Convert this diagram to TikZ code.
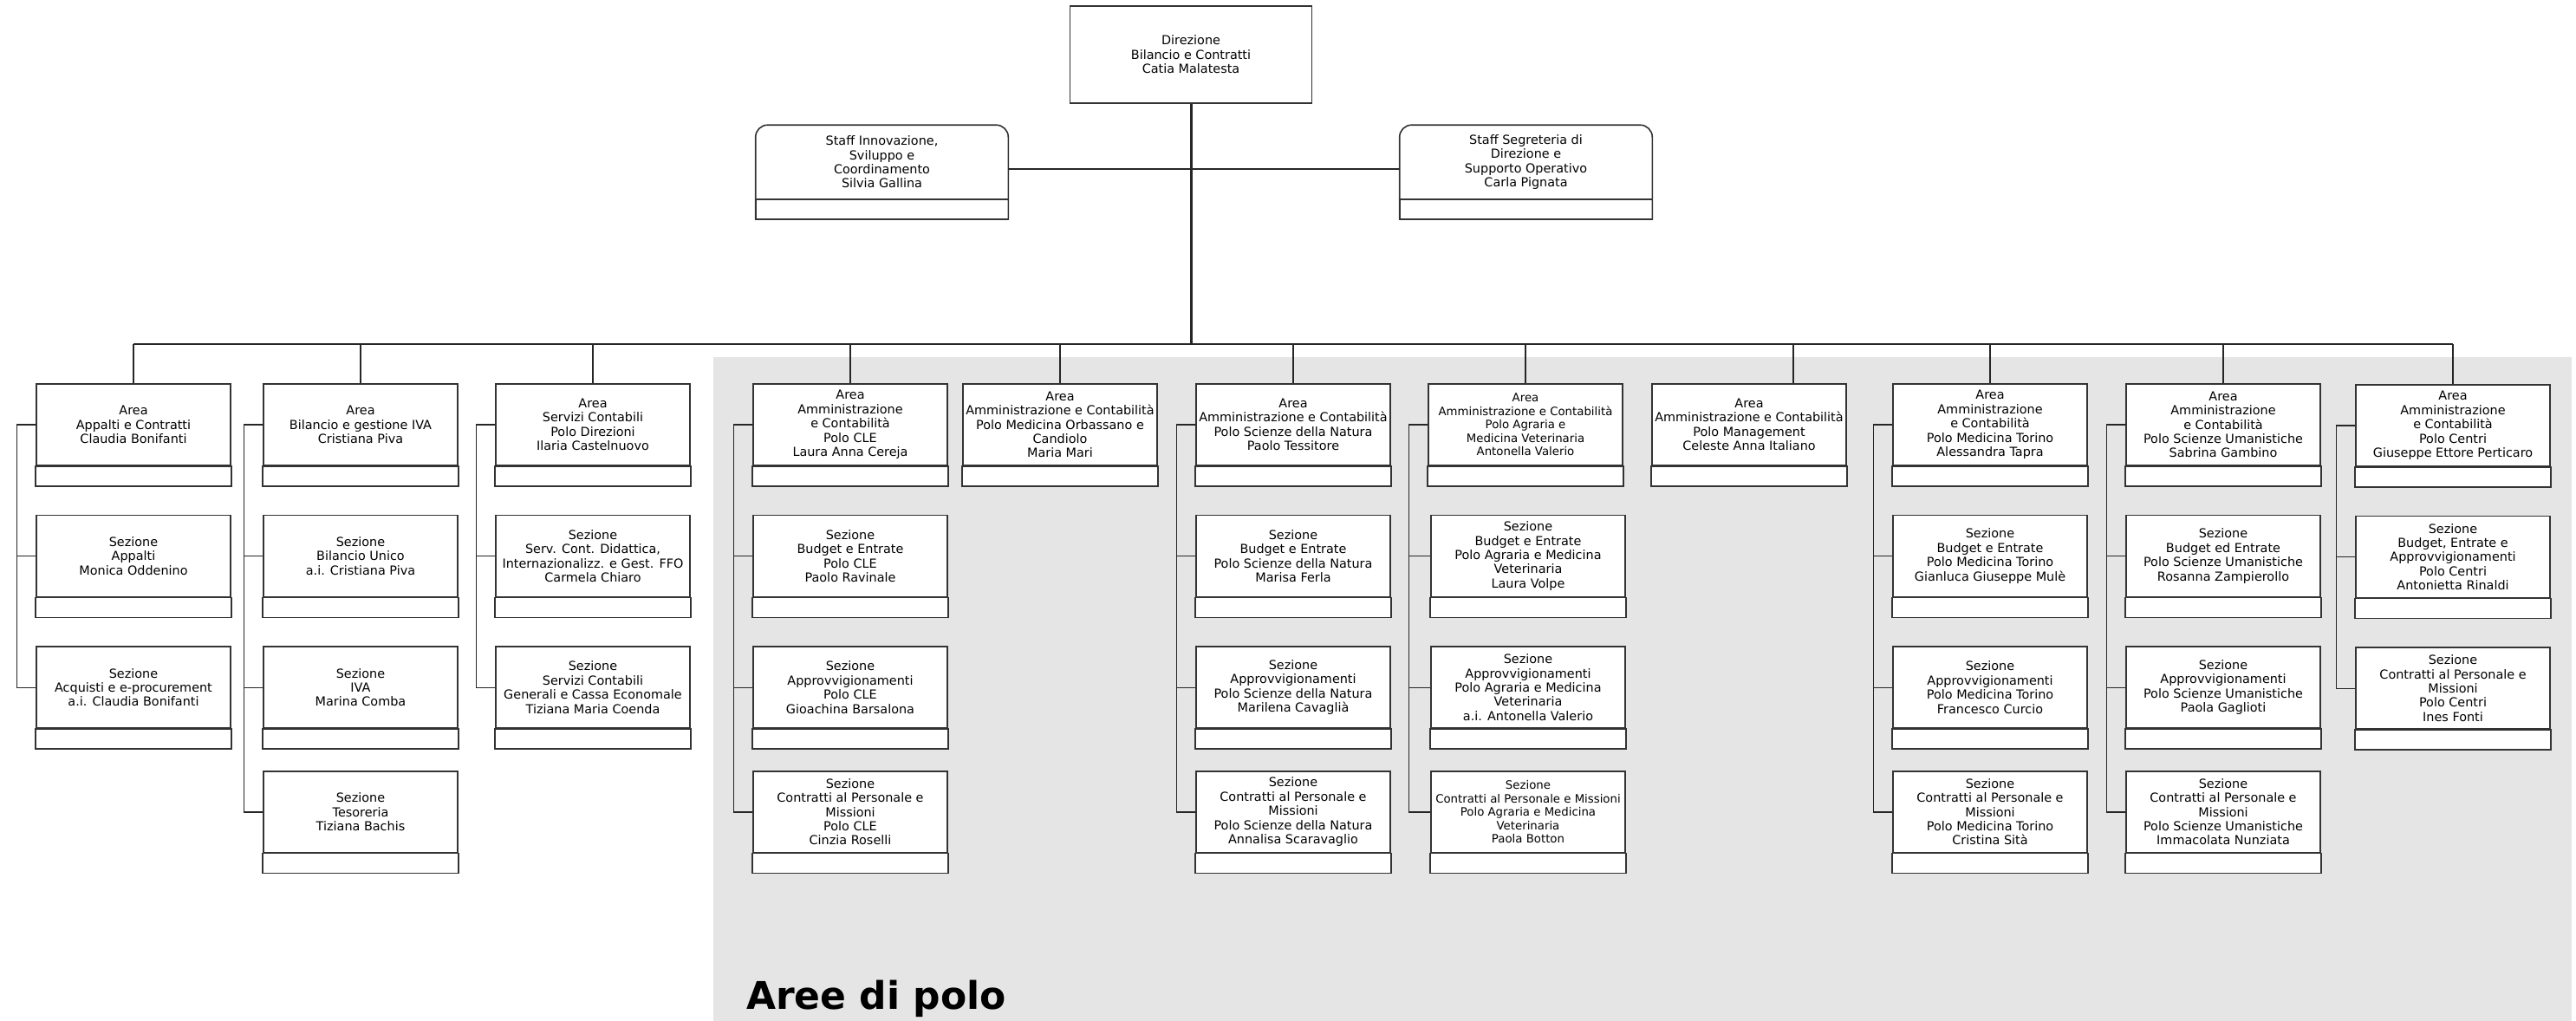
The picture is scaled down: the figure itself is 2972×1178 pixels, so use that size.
\documentclass[tikz,border=0pt]{standalone}
\usepackage{fontspec}
\setmainfont{DejaVu Sans}
\usetikzlibrary{positioning}
\definecolor{polo}{RGB}{229,229,229}

\begin{document}
\begin{tikzpicture}[
    x=1pt, y=1pt,
    node distance=56pt,
    font=\fontsize{14.4}{16.4}\selectfont,
    unit/.style={draw=black!80, line width=1.6pt, fill=white, align=center, inner xsep=2pt,
        minimum width=224pt, minimum height=94pt,
        append after command={\pgfextra{\draw[line width=1.6pt, draw=black!80, fill=white]
            (\tikzlastnode.south west) rectangle ([yshift=-23pt]\tikzlastnode.south east);}}},
    staff/.style={unit, draw=none, fill=none, minimum width=290pt, minimum height=84pt,
        append after command={\pgfextra{\draw[line width=1.6pt, draw=black!80, rounded corners=14pt]
            ([yshift=-23pt]\tikzlastnode.south west) -- (\tikzlastnode.north west)
            -- (\tikzlastnode.north east) -- ([yshift=-23pt]\tikzlastnode.south east);}}},
    head/.style={draw=black!80, line width=1.6pt, fill=white, align=center,
        minimum width=279pt, minimum height=112pt},
    small/.style={font=\fontsize{13.3}{15.6}\selectfont},
    link/.style={line width=1.4pt, draw=black!85}
]
\useasboundingbox (0,0) rectangle (2972,-1178);
\fill[polo] (823,-412) rectangle (2967,-1178);

\node[anchor=base west, inner sep=0pt, font=\bfseries\fontsize{44}{50}\selectfont] (titolo) at (861,-1164) {Aree di polo};

% vertice
\node[head] (direzione) at (1374,-63) {Direzione\\Bilancio e Contratti\\Catia Malatesta};
\node[staff] (innovazione) at (1017.5,-187) {Staff Innovazione,\\Sviluppo e\\Coordinamento\\Silvia Gallina};
\node[staff] (segreteria) at (1760.5,-187) {Staff Segreteria di\\Direzione e\\Supporto Operativo\\Carla Pignata};
\coordinate (bus) at (1374,-397);

% aree centrali
\node[unit] (contratti) at (154,-490) {Area\\Appalti e Contratti\\Claudia Bonifanti};
\node[unit, below=of contratti] (contratti1) {Sezione\\Appalti\\Monica Oddenino};
\node[unit, below=of contratti1] (contratti2) {Sezione\\Acquisti e e-procurement\\a.i. Claudia Bonifanti};

\node[unit] (bilancio) at (416,-490) {Area\\Bilancio e gestione IVA\\Cristiana Piva};
\node[unit, below=of bilancio] (bilancio1) {Sezione\\Bilancio Unico\\a.i. Cristiana Piva};
\node[unit, below=of bilancio1] (bilancio2) {Sezione\\IVA\\Marina Comba};
\node[unit, below=48pt of bilancio2] (bilancio3) {Sezione\\Tesoreria\\Tiziana Bachis};

\node[unit] (servizi) at (684,-490) {Area\\Servizi Contabili\\Polo Direzioni\\Ilaria Castelnuovo};
\node[unit, below=of servizi] (servizi1) {Sezione\\Serv. Cont. Didattica,\\Internazionalizz. e Gest. FFO\\Carmela Chiaro};
\node[unit, below=of servizi1] (servizi2) {Sezione\\Servizi Contabili\\Generali e Cassa Economale\\Tiziana Maria Coenda};

% aree di polo
\node[unit] (cle) at (981,-490) {Area\\Amministrazione\\e Contabilità\\Polo CLE\\Laura Anna Cereja};
\node[unit, below=of cle] (cle1) {Sezione\\Budget e Entrate\\Polo CLE\\Paolo Ravinale};
\node[unit, below=of cle1] (cle2) {Sezione\\Approvvigionamenti\\Polo CLE\\Gioachina Barsalona};
\node[unit, below=48pt of cle2] (cle3) {Sezione\\Contratti al Personale e\\Missioni\\Polo CLE\\Cinzia Roselli};

\node[unit] (orbassano) at (1223,-490) {Area\\Amministrazione e Contabilità\\Polo Medicina Orbassano e\\Candiolo\\Maria Mari};

\node[unit] (natura) at (1492,-490) {Area\\Amministrazione e Contabilità\\Polo Scienze della Natura\\Paolo Tessitore};
\node[unit, below=of natura] (natura1) {Sezione\\Budget e Entrate\\Polo Scienze della Natura\\Marisa Ferla};
\node[unit, below=of natura1] (natura2) {Sezione\\Approvvigionamenti\\Polo Scienze della Natura\\Marilena Cavaglià};
\node[unit, below=48pt of natura2] (natura3) {Sezione\\Contratti al Personale e\\Missioni\\Polo Scienze della Natura\\Annalisa Scaravaglio};

\node[unit, small] (agraria) at (1760,-490) {Area\\Amministrazione e Contabilità\\Polo Agraria e\\Medicina Veterinaria\\Antonella Valerio};
\node[unit, below=of agraria, xshift=3pt] (agraria1) {Sezione\\Budget e Entrate\\Polo Agraria e Medicina\\Veterinaria\\Laura Volpe};
\node[unit, below=of agraria1] (agraria2) {Sezione\\Approvvigionamenti\\Polo Agraria e Medicina\\Veterinaria\\a.i. Antonella Valerio};
\node[unit, small, below=48pt of agraria2] (agraria3) {Sezione\\Contratti al Personale e Missioni\\Polo Agraria e Medicina\\Veterinaria\\Paola Botton};

\node[unit] (management) at (2018,-490) {Area\\Amministrazione e Contabilità\\Polo Management\\Celeste Anna Italiano};

\node[unit] (torino) at (2296,-490) {Area\\Amministrazione\\e Contabilità\\Polo Medicina Torino\\Alessandra Tapra};
\node[unit, below=of torino] (torino1) {Sezione\\Budget e Entrate\\Polo Medicina Torino\\Gianluca Giuseppe Mulè};
\node[unit, below=of torino1] (torino2) {Sezione\\Approvvigionamenti\\Polo Medicina Torino\\Francesco Curcio};
\node[unit, below=48pt of torino2] (torino3) {Sezione\\Contratti al Personale e\\Missioni\\Polo Medicina Torino\\Cristina Sità};

\node[unit] (umanistiche) at (2565,-490) {Area\\Amministrazione\\e Contabilità\\Polo Scienze Umanistiche\\Sabrina Gambino};
\node[unit, below=of umanistiche] (umanistiche1) {Sezione\\Budget ed Entrate\\Polo Scienze Umanistiche\\Rosanna Zampierollo};
\node[unit, below=of umanistiche1] (umanistiche2) {Sezione\\Approvvigionamenti\\Polo Scienze Umanistiche\\Paola Gaglioti};
\node[unit, below=48pt of umanistiche2] (umanistiche3) {Sezione\\Contratti al Personale e\\Missioni\\Polo Scienze Umanistiche\\Immacolata Nunziata};

\node[unit] (centri) at (2830,-491) {Area\\Amministrazione\\e Contabilità\\Polo Centri\\Giuseppe Ettore Perticaro};
\node[unit, below=of centri] (centri1) {Sezione\\Budget, Entrate e\\Approvvigionamenti\\Polo Centri\\Antonietta Rinaldi};
\node[unit, below=of centri1] (centri2) {Sezione\\Contratti al Personale e\\Missioni\\Polo Centri\\Ines Fonti};

% collegamenti
\draw[link, line width=3pt] (direzione.south) -- (bus);
\draw[link] ([yshift=-8pt]innovazione.east) -- ([yshift=-8pt]segreteria.west);
\draw[link, line width=2pt] (contratti.north |- bus) -- (centri.north |- bus);

\draw[link] (contratti.north |- bus) -- (contratti.north);
\draw[link] (bilancio.north |- bus) -- (bilancio.north);
\draw[link] (servizi.north |- bus) -- (servizi.north);
\draw[link] (cle.north |- bus) -- (cle.north);
\draw[link] (orbassano.north |- bus) -- (orbassano.north);
\draw[link] (natura.north |- bus) -- (natura.north);
\draw[link] (agraria.north |- bus) -- (agraria.north);
\draw[link] ([xshift=51pt]management.north |- bus) -- ([xshift=51pt]management.north);
\draw[link] (torino.north |- bus) -- (torino.north);
\draw[link] (umanistiche.north |- bus) -- (umanistiche.north);
\draw[link] (centri.north |- bus) -- (centri.north);

\draw[link] (contratti.west) -- ++(-22,0) |- (contratti2.west) ([xshift=-22pt]contratti1.west) -- (contratti1.west);
\draw[link] (bilancio.west) -- ++(-22,0) |- (bilancio3.west) ([xshift=-22pt]bilancio1.west) -- (bilancio1.west) ([xshift=-22pt]bilancio2.west) -- (bilancio2.west);
\draw[link] (servizi.west) -- ++(-22,0) |- (servizi2.west) ([xshift=-22pt]servizi1.west) -- (servizi1.west);
\draw[link] (cle.west) -- ++(-22,0) |- (cle3.west) ([xshift=-22pt]cle1.west) -- (cle1.west) ([xshift=-22pt]cle2.west) -- (cle2.west);
\draw[link] (natura.west) -- ++(-22,0) |- (natura3.west) ([xshift=-22pt]natura1.west) -- (natura1.west) ([xshift=-22pt]natura2.west) -- (natura2.west);
\draw[link] (agraria.west) -- ++(-22,0) |- (agraria3.west) (agraria.west -| agraria3.west) ++(-25,0) |- (agraria1.west) (agraria.west -| agraria3.west) ++(-25,0) |- (agraria2.west);
\draw[link] (torino.west) -- ++(-22,0) |- (torino3.west) ([xshift=-22pt]torino1.west) -- (torino1.west) ([xshift=-22pt]torino2.west) -- (torino2.west);
\draw[link] (umanistiche.west) -- ++(-22,0) |- (umanistiche3.west) ([xshift=-22pt]umanistiche1.west) -- (umanistiche1.west) ([xshift=-22pt]umanistiche2.west) -- (umanistiche2.west);
\draw[link] (centri.west) -- ++(-22,0) |- (centri2.west) ([xshift=-22pt]centri1.west) -- (centri1.west);
\end{tikzpicture}
\end{document}
